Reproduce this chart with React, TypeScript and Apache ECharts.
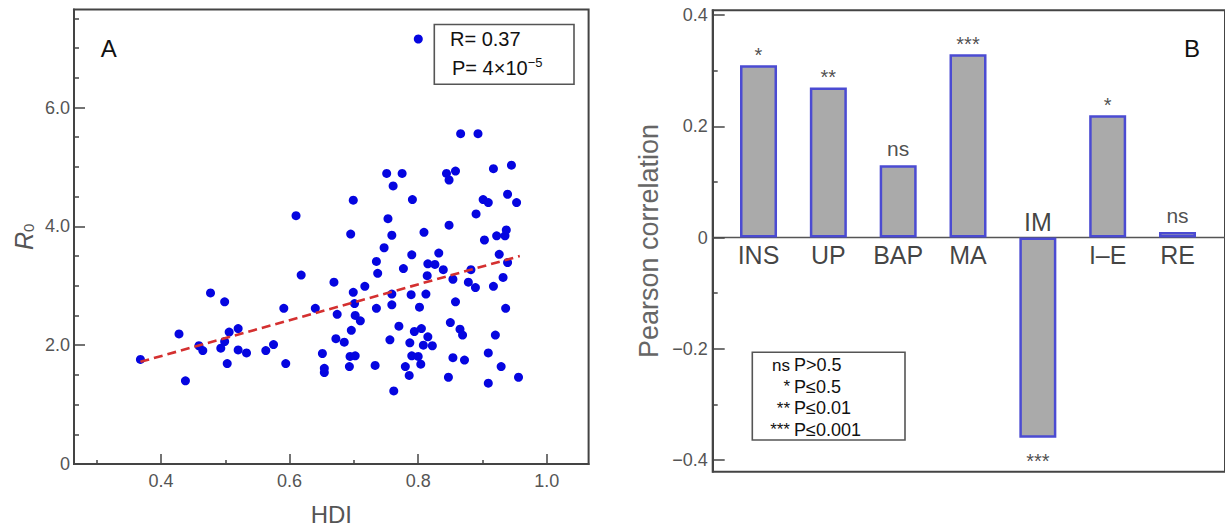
import React, { useEffect, useRef } from "react";
import * as echarts from "echarts";

// ---------- Panel A data ----------
const hdi = [
  0.368, 0.428, 0.438, 0.459, 0.465, 0.477, 0.493, 0.499, 0.499, 0.503,
  0.506, 0.52, 0.52, 0.533, 0.563, 0.575, 0.591, 0.594, 0.61, 0.618,
  0.64, 0.651, 0.654, 0.654, 0.669, 0.674, 0.672, 0.685, 0.695, 0.699,
  0.699, 0.701, 0.702, 0.71, 0.696, 0.694, 0.702, 0.693, 0.717, 0.733,
  0.735, 0.737, 0.735, 0.747, 0.753, 0.751, 0.759, 0.761, 0.759, 0.759,
  0.756, 0.762, 0.77, 0.775, 0.777, 0.78, 0.786, 0.787, 0.789, 0.79,
  0.791, 0.79, 0.794, 0.8, 0.804, 0.802, 0.805, 0.808, 0.809, 0.812,
  0.814, 0.815, 0.815, 0.822, 0.826, 0.832, 0.839, 0.844, 0.848, 0.848,
  0.847, 0.85, 0.854, 0.854, 0.858, 0.858, 0.865, 0.869, 0.866, 0.872,
  0.878, 0.882, 0.889, 0.89, 0.893, 0.901, 0.903, 0.909, 0.909, 0.909,
  0.917, 0.917, 0.92, 0.922, 0.926, 0.929, 0.932, 0.935, 0.937, 0.936,
  0.939, 0.939, 0.945, 0.953, 0.956,
];
const r0 = [
  1.76, 2.19, 1.4, 1.99, 1.91, 2.88, 1.95, 2.73, 2.06, 1.69,
  2.22, 2.28, 1.92, 1.87, 1.91, 2.01, 2.62, 1.69, 4.18, 3.18,
  2.62, 1.86, 1.61, 1.54, 3.06, 2.52, 2.11, 2.05, 3.87, 4.44,
  2.89, 2.7, 2.5, 2.41, 2.25, 1.81, 1.82, 1.64, 2.99, 1.66,
  2.62, 3.21, 3.41, 3.64, 4.13, 4.89, 3.85, 4.68, 2.86, 2.68,
  2.09, 1.23, 2.32, 4.89, 3.29, 1.64, 1.49, 2.04, 2.85, 3.52,
  4.45, 1.82, 2.23, 1.81, 1.68, 2.64, 2.28, 2.0, 3.9, 2.86,
  3.17, 3.37, 2.14, 1.99, 3.36, 3.55, 3.27, 4.89, 4.78, 4.02,
  1.46, 2.38, 3.11, 1.79, 4.93, 2.73, 2.27, 2.17, 5.56, 1.75,
  3.06, 3.27, 2.97, 4.21, 5.56, 4.45, 3.77, 4.4, 1.87, 1.36,
  4.97, 2.99, 2.17, 3.84, 3.53, 1.64, 3.14, 3.84, 3.94, 2.62,
  4.54, 3.39, 5.03, 4.4, 1.46,
];
const fitX = [0.368, 0.958];
const fitY = [1.72, 3.5];
const statR = "0.37";
const statPMantissa = "4";
const statPExponent = "\u22125";

const leftXMajor = [0.4, 0.6, 0.8, 1.0];
const leftXMinor = [0.3, 0.5, 0.7, 0.9];
const leftYMajor = [0, 2, 4, 6];
const leftYMinor = [0.5, 1, 1.5, 2.5, 3, 3.5, 4.5, 5, 5.5, 6.5, 7, 7.5];

// ---------- Panel B data ----------
const categories = ["INS", "UP", "BAP", "MA", "IM", "I\u2013E", "RE"];
const correlations = [0.31, 0.27, 0.13, 0.33, -0.36, 0.22, 0.01];
const significance = ["*", "**", "ns", "***", "***", "*", "ns"];
const legendMarks = ["ns", "*", "**", "***"];
const legendRules = ["P>0.5", "P\u22640.5", "P\u22640.01", "P\u22640.001"];
const rightYMajor = [-0.4, -0.2, 0, 0.2, 0.4];
const rightYMinor = [-0.3, -0.1, 0.1, 0.3];

const FONT = "'Liberation Sans', Arial, Helvetica, sans-serif";
const AXIS = { color: "#444", width: 2 };
const TICK = { color: "#444", width: 1.5 };

export default function App() {
  const ref = useRef<HTMLDivElement>(null);
  useEffect(() => {
    if (!ref.current) return;
    const chart = echarts.init(ref.current, undefined, { renderer: "svg" });

    const sigData = significance.map((s, i) => {
      const neg = correlations[i] < 0;
      const isStar = s.indexOf("*") >= 0;
      return {
        value: [i + 1, correlations[i]],
        label: {
          position: neg ? "bottom" : "top",
          distance: neg ? 13 : isStar ? 0 : 6,
          fontSize: isStar ? 20 : 21,
        },
      };
    });
    const catData = categories.map((c, i) => ({
      value: [i + 1, 0],
      label: {
        position: correlations[i] < 0 ? "top" : "bottom",
        distance: correlations[i] < 0 ? 3 : 5,
      },
    }));

    const legendGroup: any[] = [];
    legendMarks.forEach((m, k) => {
      const y = 365 + 21.5 * k;
      legendGroup.push({
        type: "text",
        x: 790,
        y,
        style: { text: m, fontSize: 17, fontFamily: FONT, fill: "#111", align: "right", verticalAlign: "middle" },
      });
      legendGroup.push({
        type: "text",
        x: 794,
        y,
        style: { text: legendRules[k], fontSize: 18, fontFamily: FONT, fill: "#111", align: "left", verticalAlign: "middle" },
      });
    });

    const option: any = {
      animation: false,
      backgroundColor: "#fff",
      textStyle: { fontFamily: FONT },
      grid: [
        { left: 74, top: 9.5, width: 514.6, height: 460.5, show: true, borderColor: "#444", borderWidth: 2, containLabel: false },
        { left: 712.7, top: 10.2, width: 514, height: 461.5, show: true, borderColor: "#444", borderWidth: 2, containLabel: false },
      ],
      xAxis: [
        {
          gridIndex: 0, type: "value", min: 0.2647, max: 1.065, position: "bottom",
          axisLine: { onZero: false, lineStyle: AXIS },
          axisTick: { inside: true, length: 10, customValues: leftXMajor, lineStyle: TICK },
          axisLabel: { customValues: leftXMajor, formatter: (v: number) => v.toFixed(1), fontSize: 18, color: "#555", margin: 8 },
          splitLine: { show: false },
          name: "HDI", nameLocation: "middle", nameGap: 38,
          nameTextStyle: { fontSize: 24, color: "#555" },
        },
        {
          gridIndex: 0, type: "value", min: 0.2647, max: 1.065, position: "bottom",
          axisLine: { show: false, onZero: false },
          axisTick: { inside: true, length: 4, customValues: leftXMinor, lineStyle: TICK },
          axisLabel: { show: false },
          splitLine: { show: false },
        },
        {
          gridIndex: 1, type: "value", min: 0.344, max: 7.68,
          axisLine: { onZero: true, lineStyle: { color: "#555", width: 1.3 } },
          axisTick: { show: false }, axisLabel: { show: false }, splitLine: { show: false },
        },
      ],
      yAxis: [
        {
          gridIndex: 0, type: "value", min: 0, max: 7.65, position: "left",
          axisLine: { onZero: false, lineStyle: AXIS },
          axisTick: { inside: true, length: 11, customValues: leftYMajor, lineStyle: TICK },
          axisLabel: { customValues: leftYMajor, formatter: (v: number) => (v === 0 ? "0" : v.toFixed(1)), fontSize: 18, color: "#555", margin: 4 },
          splitLine: { show: false },
          name: "{r|R}{s|0}", nameLocation: "middle", nameRotate: 90, nameGap: 38,
          nameTextStyle: {
            rich: {
              r: { fontSize: 25, fontStyle: "italic", color: "#555", fontFamily: FONT },
              s: { fontSize: 15, color: "#555", fontFamily: FONT, verticalAlign: "bottom", padding: [10, 0, 0, 0] },
            },
          },
        },
        {
          gridIndex: 0, type: "value", min: 0, max: 7.65, position: "left",
          axisLine: { show: false, onZero: false },
          axisTick: { inside: true, length: 5, customValues: leftYMinor, lineStyle: TICK },
          axisLabel: { show: false }, splitLine: { show: false },
        },
        {
          gridIndex: 1, type: "value", min: -0.421, max: 0.409, position: "left",
          axisLine: { onZero: false, lineStyle: AXIS },
          axisTick: { inside: true, length: 12, customValues: rightYMajor, lineStyle: TICK },
          axisLabel: {
            customValues: rightYMajor,
            formatter: (v: number) => (Math.abs(v) < 1e-9 ? "0" : (v < 0 ? "\u2212" : "") + Math.abs(v).toFixed(1)),
            fontSize: 18, color: "#555", margin: 5,
          },
          splitLine: { show: false },
          name: "Pearson correlation", nameLocation: "middle", nameRotate: 90, nameGap: 50,
          nameTextStyle: { fontSize: 27, color: "#666" },
        },
        {
          gridIndex: 1, type: "value", min: -0.421, max: 0.409, position: "left",
          axisLine: { show: false, onZero: false },
          axisTick: { inside: true, length: 5, customValues: rightYMinor, lineStyle: TICK },
          axisLabel: { show: false }, splitLine: { show: false },
        },
      ],
      series: [
        {
          type: "scatter", xAxisIndex: 0, yAxisIndex: 0,
          data: hdi.map((x, i) => [x, r0[i]]),
          symbol: "circle", symbolSize: 9,
          itemStyle: { color: "#0505e0", opacity: 1 },
          z: 2,
        },
        {
          type: "line", xAxisIndex: 0, yAxisIndex: 0,
          data: fitX.map((x, i) => [x, fitY[i]]),
          symbol: "none",
          lineStyle: { color: "#d43030", width: 2.6, type: [9, 5] },
          z: 3,
        },
        {
          type: "bar", xAxisIndex: 2, yAxisIndex: 2,
          data: correlations.map((v, i) => [i + 1, v]),
          barWidth: 37,
          itemStyle: { color: "#aaaaaa", borderColor: "#4b4bd2", borderWidth: 2.5 },
          z: 1,
        },
        {
          type: "scatter", xAxisIndex: 2, yAxisIndex: 2,
          data: catData,
          symbol: "circle", symbolSize: 0.1,
          itemStyle: { color: "rgba(0,0,0,0)" },
          label: { show: true, formatter: (p: any) => categories[p.dataIndex], fontSize: 25, color: "#111", fontFamily: FONT },
          z: 4,
        },
        {
          type: "scatter", xAxisIndex: 2, yAxisIndex: 2,
          data: sigData,
          symbol: "circle", symbolSize: 0.1,
          itemStyle: { color: "rgba(0,0,0,0)" },
          label: { show: true, formatter: (p: any) => significance[p.dataIndex], color: "#222", fontFamily: FONT },
          z: 4,
        },
      ],
      graphic: [
        { type: "text", x: 108.7, y: 48.5, style: { text: "A", fontSize: 24, fontFamily: FONT, fill: "#111", align: "center", verticalAlign: "middle" } },
        { type: "text", x: 1192, y: 48.5, style: { text: "B", fontSize: 24, fontFamily: FONT, fill: "#111", align: "center", verticalAlign: "middle" } },
        { type: "circle", shape: { cx: 418.3, cy: 39, r: 4.5 }, style: { fill: "#0505e0" } },
        { type: "rect", shape: { x: 434.3, y: 24.5, width: 139.7, height: 59.8 }, style: { fill: "#fff", stroke: "#555", lineWidth: 1.6 } },
        { type: "text", x: 450, y: 39, style: { text: "R= " + statR, fontSize: 20, fontFamily: FONT, fill: "#111", align: "left", verticalAlign: "middle" } },
        {
          type: "text", x: 452, y: 67.5,
          style: {
            text: "{b|P= " + statPMantissa + "\u00d710}{s|" + statPExponent + "}",
            align: "left", verticalAlign: "middle",
            rich: {
              b: { fontSize: 20, fontFamily: FONT, fill: "#111", color: "#111" },
              s: { fontSize: 13, fontFamily: FONT, fill: "#111", color: "#111", verticalAlign: "top", padding: [0, 0, 10, 0] },
            },
          },
        },
        { type: "rect", shape: { x: 752.3, y: 352.3, width: 152.7, height: 87.7 }, style: { fill: "#fff", stroke: "#555", lineWidth: 1.6 } },
        ...legendGroup,
      ],
    };
    chart.setOption(option);
    return () => chart.dispose();
  }, []);
  return (
    <div
      ref={ref}
      style={{ position: "absolute", left: 0, top: 0, width: 1225, height: 531, background: "#fff" }}
    />
  );
}
